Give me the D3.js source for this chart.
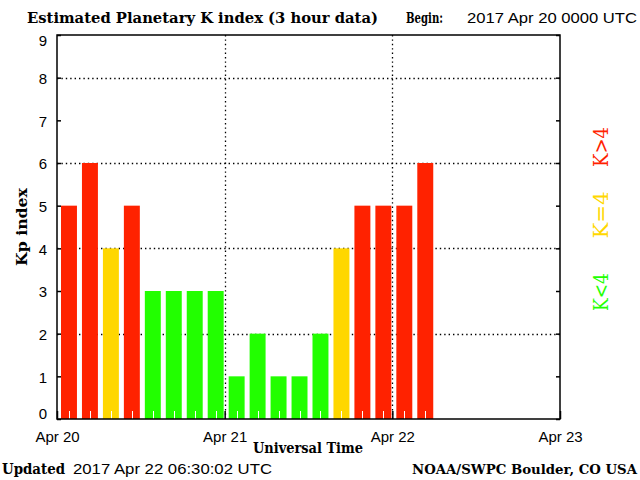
<!DOCTYPE html>
<html>
<head>
<meta charset="utf-8">
<script src="https://cdn.jsdelivr.net/npm/d3@7"></script>
<style>
  html, body { margin: 0; padding: 0; background: #fff; }
</style>
</head>
<body>
<div id="chart"></div>
<script>
// 3 hour intervals (start times, UTC)
const barTimes = [
  "2017-04-20T00:00Z", "2017-04-20T03:00Z", "2017-04-20T06:00Z", "2017-04-20T09:00Z",
  "2017-04-20T12:00Z", "2017-04-20T15:00Z", "2017-04-20T18:00Z", "2017-04-20T21:00Z",
  "2017-04-21T00:00Z", "2017-04-21T03:00Z", "2017-04-21T06:00Z", "2017-04-21T09:00Z",
  "2017-04-21T12:00Z", "2017-04-21T15:00Z", "2017-04-21T18:00Z", "2017-04-21T21:00Z",
  "2017-04-22T00:00Z", "2017-04-22T03:00Z",
];
// Kp values
const kpValues = [5, 6, 4, 5, 3, 3, 3, 3, 1, 2, 1, 1, 2, 4, 5, 5, 5, 6];
// x axis days
const dayTimes = ["2017-04-20T00:00Z", "2017-04-21T00:00Z", "2017-04-22T00:00Z", "2017-04-23T00:00Z"];
const dayLabels = ["Apr 20", "Apr 21", "Apr 22", "Apr 23"];
// y axis ticks
const yTicks = [0, 1, 2, 3, 4, 5, 6, 7, 8, 9];
const gridValues = [2, 4, 6, 8];
// right side legend
const legendLabels = ["K<4", "K=4", "K>4"];

const RED = "#ff2200";
const YELLOW = "#ffd700";
const GREEN = "#22ff00";

const serif = "'DejaVu Serif', serif";
const sans = "'Liberation Sans', Arial, sans-serif";

function kpColor(v) {
  if (v < 4) return GREEN;
  if (v == 4) return YELLOW;
  return RED;
}

function chart() {
  var w = 640;
  var h = 480;
  var pLeft = 57, pRight = 560, pTop = 35, pBottom = 419;

  const parse = (s) => new Date(s);

  // scales
  const x = d3
    .scaleUtc()
    .domain([parse(dayTimes[0]), parse(dayTimes[dayTimes.length - 1])])
    .range([pLeft, pRight]);

  const y = d3.scaleLinear().domain([0, 9]).range([pBottom, pTop]);

  const step = x(parse(barTimes[1])) - x(parse(barTimes[0]));

  const svg = d3
    .select("#chart")
    .append("svg")
    .attr("width", w)
    .attr("height", h)
    .style("display", "block");

  // dotted grid
  svg
    .append("g")
    .selectAll("line")
    .data(gridValues)
    .enter()
    .append("line")
    .attr("x1", pLeft)
    .attr("x2", pRight)
    .attr("y1", (d) => Math.round(y(d)) + 0.5)
    .attr("y2", (d) => Math.round(y(d)) + 0.5)
    .attr("stroke", "#000")
    .attr("stroke-width", 1.3)
    .attr("stroke-dasharray", "1.4,3");

  svg
    .append("g")
    .selectAll("line")
    .data(dayTimes.slice(1, 3))
    .enter()
    .append("line")
    .attr("x1", (d) => Math.round(x(parse(d))) + 0.5)
    .attr("x2", (d) => Math.round(x(parse(d))) + 0.5)
    .attr("y1", pTop)
    .attr("y2", pBottom)
    .attr("stroke", "#000")
    .attr("stroke-width", 1.3)
    .attr("stroke-dasharray", "1.4,3");

  // bars
  const bars = svg.append("g");
  bars
    .selectAll("rect")
    .data(kpValues)
    .enter()
    .append("rect")
    .attr("x", (d, i) => x(parse(barTimes[i])) + 4)
    .attr("width", step - 5)
    .attr("y", (d) => y(d))
    .attr("height", (d) => y(0) - y(d))
    .attr("fill", (d) => kpColor(d));

  // white minor ticks at bar centres
  bars
    .selectAll("line")
    .data(kpValues)
    .enter()
    .append("line")
    .attr("x1", (d, i) => Math.round(x(parse(barTimes[i])) + 4 + (step - 5) / 2) + 0.5)
    .attr("x2", (d, i) => Math.round(x(parse(barTimes[i])) + 4 + (step - 5) / 2) + 0.5)
    .attr("y1", pBottom - 8)
    .attr("y2", pBottom)
    .attr("stroke", "#fff")
    .attr("stroke-width", 1);

  // frame
  svg
    .append("rect")
    .attr("x", pLeft)
    .attr("y", pTop)
    .attr("width", pRight - pLeft)
    .attr("height", pBottom - pTop)
    .attr("fill", "none")
    .attr("stroke", "#000")
    .attr("stroke-width", 1.5);

  // y axis (left + right, inward ticks)
  const yAxisL = d3
    .axisLeft(y)
    .tickValues(yTicks)
    .tickSize(-4)
    .tickPadding(10)
    .tickFormat(d3.format("d"));
  const yAxisR = d3.axisRight(y).tickValues(yTicks).tickSize(-4).tickFormat("");

  svg
    .append("g")
    .attr("class", "yAxis")
    .attr("transform", "translate(" + pLeft + ",0)")
    .call(yAxisL)
    .call((g) => g.select(".domain").remove())
    .call((g) =>
      g
        .selectAll("text")
        .attr("font-family", sans)
        .attr("font-size", 15)
        .attr("fill", "#000")
        // end labels sit a little inside the frame
        .attr("y", (d) => (d == 9 ? 6 : d == 0 ? -5 : 1))
    );

  svg
    .append("g")
    .attr("transform", "translate(" + pRight + ",0)")
    .call(yAxisR)
    .call((g) => g.select(".domain").remove());

  svg.selectAll(".tick line").attr("stroke-width", 1.5);

  // x axis (inward day ticks)
  const xAxis = d3
    .axisBottom(x)
    .tickValues(dayTimes.map(parse))
    .tickSize(-8)
    .tickPadding(12)
    .tickFormat((d, i) => dayLabels[i]);

  svg
    .append("g")
    .attr("class", "xAxis")
    .attr("transform", "translate(0," + pBottom + ")")
    .call(xAxis)
    .call((g) => g.select(".domain").remove())
    .call((g) => g.selectAll("line").attr("stroke-width", 1.5))
    .call((g) =>
      g.selectAll("text").attr("font-family", sans).attr("font-size", 15).attr("fill", "#000")
    );

  // title
  svg
    .append("text")
    .attr("x", 27)
    .attr("y", 23)
    .attr("font-family", serif)
    .attr("font-weight", "bold")
    .attr("font-size", 14)
    .attr("textLength", 351)
    .attr("lengthAdjust", "spacingAndGlyphs")
    .text("Estimated Planetary K index (3 hour data)");

  svg
    .append("text")
    .attr("x", 406)
    .attr("y", 23)
    .attr("font-family", serif)
    .attr("font-weight", "bold")
    .attr("font-size", 15)
    .attr("textLength", 37)
    .attr("lengthAdjust", "spacingAndGlyphs")
    .text("Begin:");

  svg
    .append("text")
    .attr("x", 467)
    .attr("y", 23)
    .attr("font-family", sans)
    .attr("font-size", 15)
    .attr("textLength", 170)
    .attr("lengthAdjust", "spacingAndGlyphs")
    .text("2017 Apr 20 0000 UTC");

  // axis titles
  svg
    .append("text")
    .attr("x", 308)
    .attr("y", 453)
    .attr("text-anchor", "middle")
    .attr("font-family", serif)
    .attr("font-weight", "bold")
    .attr("font-size", 14)
    .attr("textLength", 110)
    .attr("lengthAdjust", "spacingAndGlyphs")
    .text("Universal Time");

  svg
    .append("text")
    .attr("transform", "translate(27,227) rotate(-90)")
    .attr("text-anchor", "middle")
    .attr("font-family", serif)
    .attr("font-weight", "bold")
    .attr("font-size", 15)
    .attr("textLength", 78)
    .attr("lengthAdjust", "spacingAndGlyphs")
    .text("Kp index");

  // footer
  svg
    .append("text")
    .attr("x", 2)
    .attr("y", 474)
    .attr("font-family", serif)
    .attr("font-weight", "bold")
    .attr("font-size", 14)
    .attr("textLength", 63)
    .attr("lengthAdjust", "spacingAndGlyphs")
    .text("Updated");

  svg
    .append("text")
    .attr("x", 73)
    .attr("y", 474)
    .attr("font-family", sans)
    .attr("font-size", 15)
    .attr("textLength", 199)
    .attr("lengthAdjust", "spacingAndGlyphs")
    .text("2017 Apr 22 06:30:02 UTC");

  svg
    .append("text")
    .attr("x", 637)
    .attr("y", 474)
    .attr("text-anchor", "end")
    .attr("font-family", serif)
    .attr("font-weight", "bold")
    .attr("font-size", 13)
    .attr("textLength", 225)
    .attr("lengthAdjust", "spacingAndGlyphs")
    .text("NOAA/SWPC Boulder, CO USA");

  // right side colour legend
  const legendColors = [GREEN, YELLOW, RED];
  const legendCenters = [292, 215, 147];
  const legendLengths = [38, 47, 40];

  svg
    .append("g")
    .selectAll("text")
    .data(legendLabels)
    .enter()
    .append("text")
    .attr("transform", (d, i) => "translate(608," + legendCenters[i] + ") rotate(-90)")
    .attr("text-anchor", "middle")
    .attr("font-family", serif)
    .attr("font-size", 21)
    .attr("textLength", (d, i) => legendLengths[i])
    .attr("lengthAdjust", "spacingAndGlyphs")
    .attr("fill", (d, i) => legendColors[i])
    .text((d) => d);
}

chart();
</script>
</body>
</html>
